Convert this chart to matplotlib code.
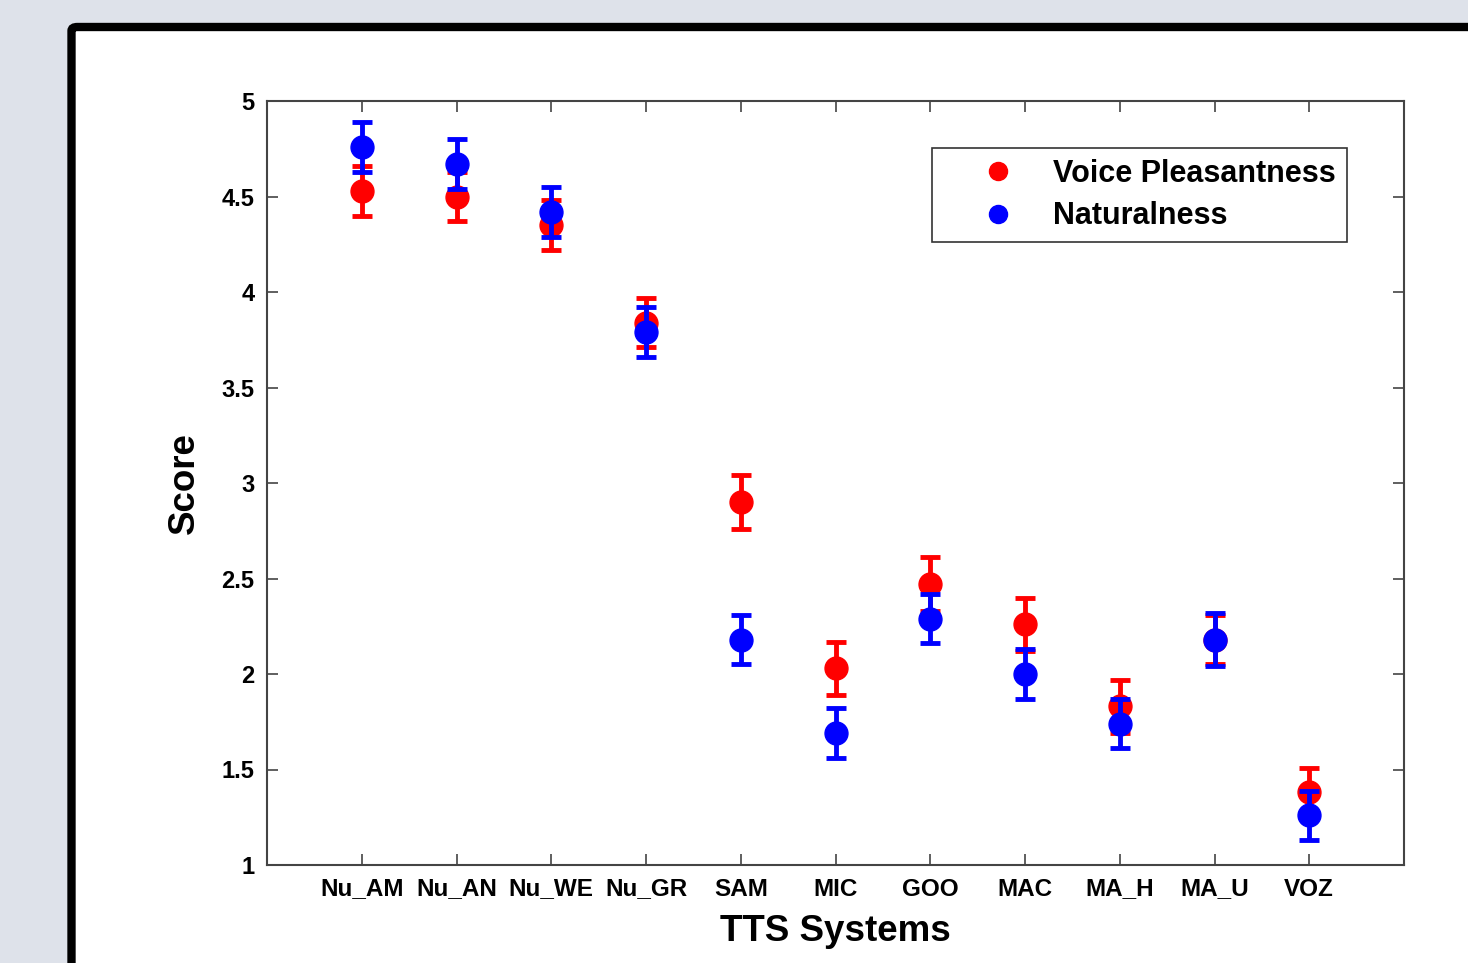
import numpy as np
import matplotlib.pyplot as plt
from matplotlib.patches import FancyBboxPatch

systems = ["Nu_AM", "Nu_AN", "Nu_WE", "Nu_GR", "SAM", "MIC", "GOO", "MAC", "MA_H", "MA_U", "VOZ"]

pleasant = [4.53, 4.50, 4.35, 3.84, 2.90, 2.03, 2.47, 2.26, 1.83, 2.18, 1.38]
pleasant_err = [0.13, 0.13, 0.13, 0.13, 0.14, 0.14, 0.14, 0.14, 0.14, 0.13, 0.13]

natural = [4.76, 4.67, 4.42, 3.79, 2.18, 1.69, 2.29, 2.00, 1.74, 2.18, 1.26]
natural_err = [0.13, 0.13, 0.13, 0.13, 0.13, 0.13, 0.13, 0.13, 0.13, 0.14, 0.13]

yticks = [1, 1.5, 2, 2.5, 3, 3.5, 4, 4.5, 5]
ytick_labels = ["1", "1.5", "2", "2.5", "3", "3.5", "4", "4.5", "5"]

plt.rcParams["font.family"] = ["Liberation Sans", "DejaVu Sans"]
plt.rcParams["font.weight"] = "bold"

fig = plt.figure(figsize=(14.68, 9.63), dpi=100)
fig.patch.set_facecolor("#dee2ea")

# white panel with thick black border (runs off the right and bottom edges)
panel = FancyBboxPatch(
    (71.5 / 1468, -0.1), 1.2, 1 - 27 / 963 + 0.1,
    boxstyle="round,pad=0,rounding_size=0.004",
    transform=fig.transFigure, facecolor="white", edgecolor="black",
    linewidth=6, zorder=-10,
)
fig.patches.append(panel)

ax = fig.add_axes([267 / 1468, 1 - 865 / 963, (1404 - 267) / 1468, (865 - 101) / 963])
ax.set_zorder(5)
ax.set_facecolor("white")

x = np.arange(1, len(systems) + 1)

ax.errorbar(
    x, pleasant, yerr=pleasant_err, fmt="o", color="#ff0000",
    markersize=16.5, elinewidth=3.5, capsize=7.5, capthick=3.5, zorder=3,
)
ax.errorbar(
    x, natural, yerr=natural_err, fmt="o", color="#0000ff",
    markersize=16.5, elinewidth=3.5, capsize=7.5, capthick=3.5, zorder=4,
)

ax.set_xlim(0, 12)
ax.set_ylim(1, 5)
ax.set_xticks(x)
ax.set_xticklabels(systems, fontsize=17.5, fontweight="bold")
ax.set_yticks(yticks)
ax.set_yticklabels(ytick_labels, fontsize=17, fontweight="bold")

ax.tick_params(direction="in", length=8, width=1.2, color="#444444",
               top=True, right=True, pad=9)
for sp in ax.spines.values():
    sp.set_color("#444444")
    sp.set_linewidth(1.5)

ax.set_xlabel("TTS Systems", fontsize=26.5, fontweight="bold", labelpad=10)
ax.set_ylabel("Score", fontsize=26.5, fontweight="bold", labelpad=14)

# legend with markers only
h1, = ax.plot([], [], "o", color="#ff0000", markersize=13)
h2, = ax.plot([], [], "o", color="#0000ff", markersize=13)
leg = ax.legend(
    [h1, h2], ["Voice Pleasantness", "Naturalness"],
    loc="upper right", bbox_to_anchor=(0.950, 0.9385),
    prop={"size": 22, "weight": "bold"}, frameon=True, fancybox=False,
    edgecolor="black", handlelength=3.55, handletextpad=0.05,
    borderpad=0.36, labelspacing=0.4, borderaxespad=0,
)
leg.get_frame().set_linewidth(1.2)

fig.savefig("out.png", dpi=100, facecolor=fig.get_facecolor())
